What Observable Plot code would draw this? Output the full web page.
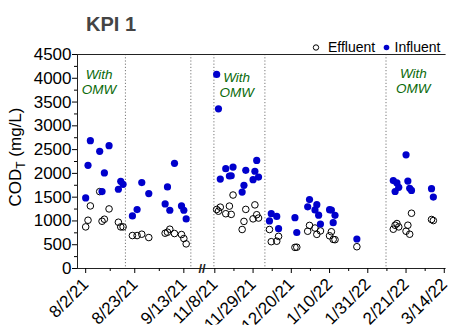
<!DOCTYPE html>
<html><head><meta charset="utf-8">
<script src="https://cdn.jsdelivr.net/npm/d3@7"></script>
<script src="https://cdn.jsdelivr.net/npm/@observablehq/plot@0.6"></script>
<style>body{margin:0;background:#fff;}</style>
</head><body><div id="chart"></div>
<script>
const title = "KPI 1";
const seriesNames = ["Effluent", "Influent"];
const dates = ["8/2/21","8/3/21","8/4/21","8/8/21","8/9/21","8/10/21","8/12/21","8/16/21","8/17/21","8/18/21","8/22/21","8/24/21","8/26/21","8/29/21","9/5/21","9/6/21","9/7/21","9/9/21","9/12/21","9/13/21","9/14/21",
  "11/9/21","11/10/21","11/11/21","11/14/21","11/16/21","11/17/21","11/18/21","11/23/21","11/24/21","11/25/21","11/29/21","11/30/21","12/1/21","12/2/21",
  "12/8/21","12/9/21","12/12/21","12/13/21","12/22/21","12/23/21","12/29/21","12/30/21","1/2/22","1/3/22","1/4/22","1/5/22",
  "1/10/22","1/11/22","1/12/22","1/13/22","1/25/22","2/14/22","2/15/22","2/16/22","2/17/22","2/21/22","2/22/22","2/23/22","2/24/22","3/7/22","3/8/22"];
const influent = [1484,2170,2688,2464,1617,2009,2583,1666,1834,1771,1106,1239,1806,1575,1358,1715,1225,2212,1316,1225,1043,
  4080,3358,1880,2100,1945,1950,2132,1608,1748,2065,1867,2045,2273,1922,
  1000,1152,1096,837,1068,757,1296,1450,1232,1342,1121,936,
  1237,1230,964,1118,620,1848,1619,1800,1708,2390,1838,1688,1642,1678,1502];
const effluent = [875,1015,1316,1617,994,1036,1253,973,875,875,693,693,721,651,742,763,826,735,714,630,518,
  1241,1205,1290,1152,1312,1138,1545,820,990,1243,1044,1338,1131,1061,
  820,564,574,676,444,448,784,906,851,718,null,790,
  688,773,612,606,458,826,910,945,875,784,910,721,1162,1030,1008];
const majorTicks = ["8/2/21","8/23/21","9/13/21","11/8/21","11/29/21","12/20/21","1/10/22","1/31/22","2/21/22","3/14/22"];
const yTicks = [0,500,1000,1500,2000,2500,3000,3500,4000,4500];
const dividers = ["2021-08-19","2021-09-16","2021-11-07T12:00Z","2021-12-05T12:00Z","2022-02-10"];
const xDomain = ["2021-07-29T12:00Z","2021-09-20","2021-11-02","2022-03-15"];
const omwLabel = "With\nOMW";
const omwX = ["2021-08-07T18:00Z","2021-11-20","2022-02-25"];
const omwY = [3920, 3860, 3940];

const blue = "#0000cc";
const green = "#0a6a0a";
const parse = d3.utcParse("%m/%d/%y");
const rows = dates.map((d, i) => ({date: parse(d), influent: influent[i], effluent: effluent[i]}));
const majors = majorTicks.map(parse);
const minors = [];
for (let i = 0; i < majors.length - 1; i++) {
  if (i === 2) continue;
  minors.push(new Date((+majors[i] + +majors[i+1]) / 2));
}
const dom = xDomain.map(d => new Date(d));
const breakAt = new Date((+dom[1] + +dom[2]) / 2);
const omw = omwX.map((d, i) => ({x: new Date(d), y: omwY[i]}));

const svg = Plot.plot({
  width: 453, height: 325,
  marginLeft: 77, marginRight: 7.4, marginTop: 54, marginBottom: 57,
  style: {fontFamily: "'Liberation Sans', Arial, sans-serif", fontSize: "17px", color: "black", background: "white"},
  x: {type: "utc", domain: dom, range: [77, 199.7, 203.4, 445.6]},
  y: {domain: [0, 4500], range: [268, 54]},
  marks: [
    Plot.ruleX(dividers.map(d => new Date(d)), {stroke: "#777", strokeDasharray: "1.2,2", strokeWidth: 1}),
    Plot.ruleY([4500], {stroke: "#222"}),
    Plot.ruleY([0], {stroke: "#222"}),
    Plot.ruleX([dom[0]], {stroke: "#222"}),
    Plot.axisY(yTicks, {tickSize: 5, tickPadding: 1, fontSize: 17, label: null, tickFormat: d3.format("d")}),
    Plot.axisY(d3.range(250, 4500, 500), {tickSize: 3, tickFormat: () => "", label: null}),
    Plot.axisX(majors, {tickSize: 5, tickRotate: -45, tickFormat: d3.utcFormat("%-m/%-d/%y"), fontSize: 17, label: null, tickPadding: 8}),
    Plot.axisX(minors, {tickSize: 3, tickFormat: () => "", label: null}),
    Plot.text(["//"], {x: [breakAt], y: [0], fontSize: 13, fill: "#222", fontWeight: "bold"}),
    Plot.dot(rows, {x: "date", y: "effluent", r: 3.3, stroke: "black", fill: "none", strokeWidth: 1}),
    Plot.dot(rows, {x: "date", y: "influent", r: 3.6, fill: blue, stroke: "none"}),
    Plot.text(omw, {x: "x", y: "y", text: () => omwLabel, fill: green, fontSize: 13.5, fontStyle: "italic", lineHeight: 1.1})
  ]
});
const s = d3.select(svg);
s.append("text").attr("x", 86).attr("y", 31).attr("text-anchor", "start").attr("font-size", 20).attr("font-weight", "bold").attr("fill", "#444").text(title);
const lg = s.append("g").attr("font-size", 14).attr("fill", "black").attr("text-anchor", "start");
lg.append("circle").attr("cx", 316).attr("cy", 47.5).attr("r", 2.7).attr("fill", "white").attr("stroke", "black").attr("stroke-width", 1);
lg.append("text").attr("x", 328).attr("y", 52).text(seriesNames[0]);
lg.append("circle").attr("cx", 386.5).attr("cy", 47.5).attr("r", 2.8).attr("fill", blue).attr("stroke", "none");
lg.append("text").attr("x", 394.5).attr("y", 52).text(seriesNames[1]);
const yl = s.append("text").attr("transform", "translate(21,157) rotate(-90)").attr("text-anchor", "middle").attr("font-size", 17).attr("fill", "black");
yl.append("tspan").text("COD");
yl.append("tspan").attr("font-size", 12).attr("dy", 4).text("T");
yl.append("tspan").attr("dy", -4).text(" (mg/L)");
document.getElementById("chart").appendChild(svg);
</script>
</body></html>
